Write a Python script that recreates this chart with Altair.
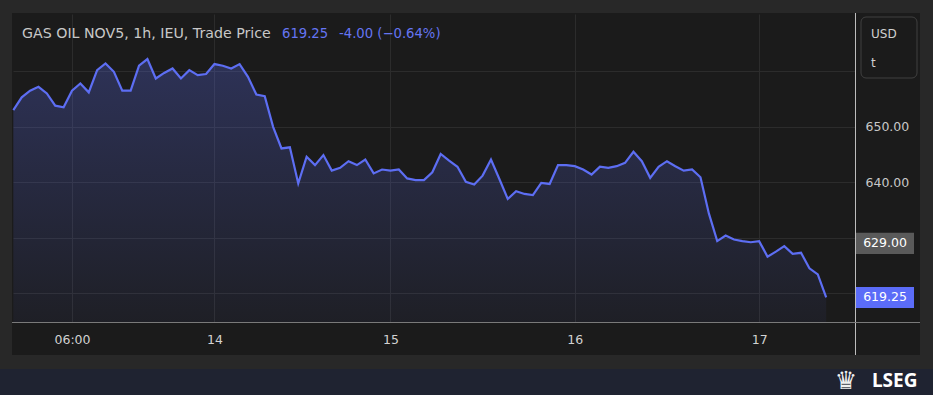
import altair as alt
import pandas as pd

# ---- data ----
prices = [653.0, 655.3, 656.5, 657.2, 656.0, 653.8, 653.5, 656.5, 657.8, 656.2,
          660.2, 661.4, 659.9, 656.5, 656.5, 661.0, 662.2, 658.7, 659.7, 660.5,
          658.7, 660.2, 659.3, 659.5, 661.3, 661.0, 660.5, 661.3, 659.0, 655.8,
          655.5, 650.0, 646.1, 646.3, 639.8, 644.6, 643.1, 644.9, 642.1, 642.6,
          643.8, 643.1, 644.1, 641.6, 642.3, 642.1, 642.3, 640.7, 640.4, 640.4,
          641.8, 645.1, 643.9, 642.8, 640.1, 639.6, 641.2, 644.1, 640.6, 637.0,
          638.4, 637.9, 637.7, 639.9, 639.7, 643.1, 643.1, 642.9, 642.3, 641.4,
          642.8, 642.6, 642.9, 643.5, 645.5, 643.8, 640.8, 642.8, 643.8, 642.9,
          642.1, 642.3, 640.9, 634.4, 629.4, 630.4, 629.7, 629.4, 629.2, 629.4,
          626.6, 627.5, 628.5, 627.1, 627.3, 624.5, 623.4, 619.25]
tick_index = [7, 24, 45, 67, 89]
tick_labels = ["06:00", "14", "15", "16", "17"]
y_ticks = [620, 630, 640, 650, 660]
y_hidden = [620, 660]          # labels covered by the price tag / unit box
marker_values = [629.00, 619.25]
marker_fill = ["#5a5a5a", "#5b6cf8"]
title_text = "GAS OIL NOV5, 1h, IEU, Trade Price"
last_text = "619.25"
change_text = "-4.00 (\u22120.64%)"

Y_MIN, Y_MAX = 614.83, 670.32

df = pd.DataFrame({"i": list(range(len(prices))), "price": prices})
one = pd.DataFrame({"a": [0]})

LINE = "#5d6ef3"
PANEL = "#1b1b1b"
FRAME = "#282828"
NAVY = "#1f2331"
GRID = "#2c2c2c"
TXT = "#c8c8c8"
AXFONT = "DejaVu Sans"
TFONT = "DejaVu Sans"

W, H = 842, 308

label_expr = ""
for idx, lab in zip(tick_index, tick_labels):
    label_expr += f"datum.value == {idx} ? '{lab}' : "
label_expr += "''"

y_expr = " || ".join(f"datum.value == {v}" for v in y_hidden) + " ? '' : format(datum.value, '.2f')"

xs = alt.Scale(domain=[-0.04, 100.44], nice=False, zero=False)
ys = alt.Scale(domain=[Y_MIN, Y_MAX], nice=False, zero=False)

x_axis = alt.Axis(values=tick_index, labelExpr=label_expr, grid=True, gridColor=GRID,
                  domain=False, ticks=False, tickSize=0, labelPadding=11,
                  labelColor="#d2d2d2", labelFont=AXFONT, labelFontSize=12.5, title=None,
                  labelFlush=False)
y_axis = alt.Axis(values=y_ticks, labelExpr=y_expr, orient="right", grid=True, gridColor=GRID,
                  domain=False, ticks=False, tickSize=0, labelPadding=10, labelAlign="left",
                  labelBaseline="middle", labelColor=TXT, labelFont=AXFONT,
                  labelFontSize=12.5, title=None)


def box(x, x2, y, y2, color, **kw):
    return alt.Chart(one).mark_rect(color=color, **kw).encode(
        x=alt.value(x), x2=alt.value(x2), y=alt.value(y), y2=alt.value(y2))


def label(text, x, y, color=TXT, size=13, font=TFONT, align="left", baseline="alphabetic", **kw):
    return alt.Chart(one).mark_text(text=text, color=color, fontSize=size, font=font,
                                    align=align, baseline=baseline, **kw).encode(
        x=alt.value(x), y=alt.value(y))


grad = alt.Gradient(gradient="linear", x1=0, x2=0, y1=0, y2=1,
                    stops=[alt.GradientStop(offset=0, color="rgba(93,110,243,0.28)"),
                           alt.GradientStop(offset=1, color="rgba(93,110,243,0.05)")])

area = alt.Chart(df).mark_area(color=grad).encode(
    x=alt.X("i:Q", scale=xs, axis=x_axis),
    y=alt.Y("price:Q", scale=ys, axis=y_axis, stack=None),
    y2=alt.datum(Y_MIN),
)
line = alt.Chart(df).mark_line(color=LINE, strokeWidth=2.2).encode(
    x=alt.X("i:Q", scale=xs, axis=x_axis),
    y=alt.Y("price:Q", scale=ys, axis=y_axis),
)

mk = pd.DataFrame({"price": marker_values, "fill": marker_fill})
mk_box = alt.Chart(mk).mark_rect().transform_calculate(
    p1="datum.price + 1.9", p2="datum.price - 1.9"
).encode(
    x=alt.value(843), x2=alt.value(901),
    y=alt.Y("p1:Q", scale=ys, axis=y_axis), y2="p2:Q",
    color=alt.Color("fill:N", scale=None),
)
mk_txt = alt.Chart(mk).mark_text(color="#ffffff", font=AXFONT, fontSize=12.5,
                                 align="center", baseline="middle").encode(
    x=alt.value(872), y=alt.Y("price:Q", scale=ys, axis=y_axis),
    text=alt.Text("price:Q", format=".2f"),
)

layers = [
    area, line,
    # outer frame and footer
    box(-13, 920, -14, -1, FRAME),
    box(-13, -1, -14, 381, FRAME),
    box(907, 920, -14, 381, FRAME),
    box(-13, 920, 341, 355, FRAME),
    box(-13, 920, 355, 381, NAVY),
    # separators
    alt.Chart(one).mark_rule(color="#bdbdbd", strokeWidth=1).encode(
        x=alt.value(842.5), y=alt.value(-1), y2=alt.value(341)),
    alt.Chart(one).mark_rule(color="#7a7a7a", strokeWidth=1).encode(
        y=alt.value(308.5), x=alt.value(-1), x2=alt.value(907)),
    # USD / t box
    box(848, 904, 3, 64, PANEL, stroke="#404040", strokeWidth=1, cornerRadius=5),
    label("USD", 858, 24, size=12, color="#d0d0d0"),
    label("t", 858, 52.5, size=12, color="#d0d0d0"),
    mk_box, mk_txt,
    # header
    label(title_text, 9, 23.7, size=14.2),
    label(last_text, 269, 23.7, size=13.2, color="#6575f2"),
    label(change_text, 326, 23.7, size=13.2, color="#6575f2"),
    # footer logo
    label("\u265b", 833, 375, size=25, color="#f0f0f0", font="DejaVu Sans", align="center"),
    label("LSEG", 859, 373, size=19, color="#ffffff", font="Noto Sans", fontWeight="bold"),
]

chart = alt.layer(*layers).properties(
    width=W, height=H,
    padding={"left": 13, "top": 14, "right": 78, "bottom": 73},
    autosize=alt.AutoSizeParams(type="none"),
).configure(background=PANEL).configure_view(strokeWidth=0)

chart.save("out.html", embed_options={"renderer": "svg", "actions": False})
